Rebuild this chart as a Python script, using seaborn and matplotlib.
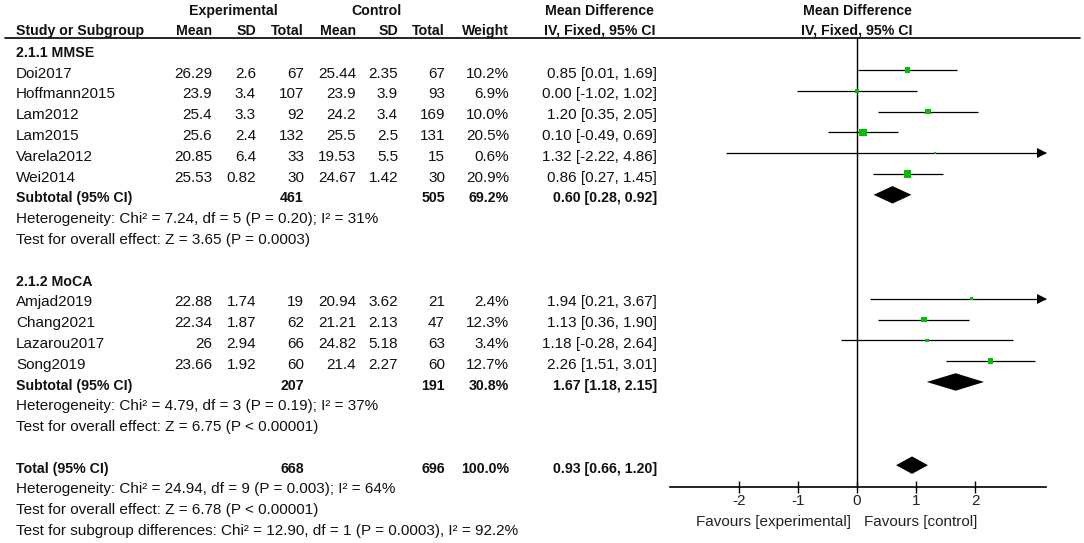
import matplotlib
matplotlib.use("Agg")
import matplotlib.pyplot as plt
from matplotlib.lines import Line2D
from matplotlib.transforms import blended_transform_factory
import seaborn as sns
import pandas as pd

# ---------------- data ----------------
studies1 = ["Doi2017", "Hoffmann2015", "Lam2012", "Lam2015", "Varela2012", "Wei2014"]
exp_mean1 = [26.29, 23.9, 25.4, 25.6, 20.85, 25.53]
exp_sd1 = [2.6, 3.4, 3.3, 2.4, 6.4, 0.82]
exp_n1 = [67, 107, 92, 132, 33, 30]
ctl_mean1 = [25.44, 23.9, 24.2, 25.5, 19.53, 24.67]
ctl_sd1 = [2.35, 3.9, 3.4, 2.5, 5.5, 1.42]
ctl_n1 = [67, 93, 169, 131, 15, 30]
weight1 = [10.2, 6.9, 10.0, 20.5, 0.6, 20.9]
md1 = [0.85, 0.00, 1.20, 0.10, 1.32, 0.86]
lo1 = [0.01, -1.02, 0.35, -0.49, -2.22, 0.27]
hi1 = [1.69, 1.02, 2.05, 0.69, 4.86, 1.45]

studies2 = ["Amjad2019", "Chang2021", "Lazarou2017", "Song2019"]
exp_mean2 = [22.88, 22.34, 26, 23.66]
exp_sd2 = [1.74, 1.87, 2.94, 1.92]
exp_n2 = [19, 62, 66, 60]
ctl_mean2 = [20.94, 21.21, 24.82, 21.4]
ctl_sd2 = [3.62, 2.13, 5.18, 2.27]
ctl_n2 = [21, 47, 63, 60]
weight2 = [2.4, 12.3, 3.4, 12.7]
md2 = [1.94, 1.13, 1.18, 2.26]
lo2 = [0.21, 0.36, -0.28, 1.51]
hi2 = [3.67, 1.90, 2.64, 3.01]

group_names = ["2.1.1 MMSE", "2.1.2 MoCA"]
sub_exp_n = [461, 207]
sub_ctl_n = [505, 191]
sub_weight = [69.2, 30.8]
sub_md = [0.60, 1.67]
sub_lo = [0.28, 1.18]
sub_hi = [0.92, 2.15]
sub_het = ["Heterogeneity: Chi\u00b2 = 7.24, df = 5 (P = 0.20); I\u00b2 = 31%",
           "Heterogeneity: Chi\u00b2 = 4.79, df = 3 (P = 0.19); I\u00b2 = 37%"]
sub_test = ["Test for overall effect: Z = 3.65 (P = 0.0003)",
            "Test for overall effect: Z = 6.75 (P < 0.00001)"]

tot_exp_n = 668
tot_ctl_n = 696
tot_weight = 100.0
tot_md, tot_lo, tot_hi = 0.93, 0.66, 1.20
tot_lines = ["Heterogeneity: Chi\u00b2 = 24.94, df = 9 (P = 0.003); I\u00b2 = 64%",
             "Test for overall effect: Z = 6.78 (P < 0.00001)",
             "Test for subgroup differences: Chi\u00b2 = 12.90, df = 1 (P = 0.0003), I\u00b2 = 92.2%"]

xticks = [-2, -1, 0, 1, 2]
xlim = (-3.17, 3.2)
fav_left = "Favours [experimental]"
fav_right = "Favours [control]"

# ---------------- style ----------------
sns.set_theme(style="white")
plt.rcParams["font.family"] = ["Liberation Sans", "DejaVu Sans"]
plt.rcParams["axes.unicode_minus"] = False
FS = 11
FSB = 10.2
GREEN = "#00C000"

W, H = 1084, 543
fig = plt.figure(figsize=(W / 100, H / 100), dpi=100)
ax = fig.add_axes([670 / W, 1 - 487 / H, (1046 - 670) / W, (487 - 38) / H])

# row layout
rows1 = list(range(1, 7))
rows2 = list(range(12, 16))
sub_rows = [7, 16]
tot_row = 20

# ---------------- forest plot ----------------
df = pd.DataFrame({
    "md": md1 + md2,
    "row": rows1 + rows2,
    "weight": weight1 + weight2,
    "lo": lo1 + lo2,
    "hi": hi1 + hi2,
})

for _, r in df.iterrows():
    a = max(r["lo"], xlim[0])
    b = min(r["hi"], xlim[1])
    ax.plot([a, b], [r["row"], r["row"]], color="black", lw=0.9, solid_capstyle="butt", zorder=2)
    if r["hi"] > xlim[1]:
        ax.plot([xlim[1] - 0.07], [r["row"]], marker=">", color="black", ms=6.5, mew=0, zorder=2,
                clip_on=False)
    if r["lo"] < xlim[0]:
        ax.plot([xlim[0] + 0.07], [r["row"]], marker="<", color="black", ms=6.5, mew=0, zorder=2,
                clip_on=False)

sns.scatterplot(data=df, x="md", y="row", size="weight", sizes=(3.0, 27.0), size_norm=(0.6, 20.9),
                marker="s", color=GREEN, linewidth=0, legend=False, ax=ax, zorder=3)

dh = 0.42
for m, l, h, y in list(zip(sub_md, sub_lo, sub_hi, sub_rows)) + [(tot_md, tot_lo, tot_hi, tot_row)]:
    ax.fill([l, m, h, m], [y, y - dh, y, y + dh], color="black", lw=0, zorder=3)

ax.axvline(0, color="black", lw=1.0, zorder=1)
ax.set_xlim(*xlim)
ax.set_ylim(21.05, -0.54)
ax.set_xticks(xticks)
ax.set_xticklabels([str(t) for t in xticks], fontsize=FS)
ax.set_yticks([])
ax.set_xlabel("")
ax.set_ylabel("")
for s in ["top", "left", "right"]:
    ax.spines[s].set_visible(False)
ax.spines["bottom"].set_color("black")
ax.spines["bottom"].set_linewidth(1.2)
ax.tick_params(axis="x", direction="inout", length=8, width=1, color="black", pad=1,
               labelcolor="#222222", bottom=True)
ax.patch.set_alpha(0)

ftr = blended_transform_factory(ax.transData, ax.transAxes)
ax.text(-0.1, -0.078, fav_left, transform=ftr, ha="right", va="center", fontsize=FS, color="#222222")
ax.text(0.12, -0.078, fav_right, transform=ftr, ha="left", va="center", fontsize=FS, color="#222222")

# ---------------- table text ----------------
tr = blended_transform_factory(fig.transFigure, ax.transData)
TOFF = 0.17
TC = "#111111"


def txt(xpx, row, s, ha="right", bold=False):
    fig.text(xpx / W, row + TOFF, s, transform=tr, ha=ha, va="center",
             fontsize=FSB if bold else FS,
             fontweight="bold" if bold else "normal", color=TC)


def fmt(v):
    return str(v)


col_x = {"emean": 212, "esd": 256, "en": 304, "cmean": 356, "csd": 398, "cn": 445,
         "w": 509, "ci": 657}

# headers
hr1, hr2 = -2.0, -1.05
txt(233, hr1, "Experimental", ha="center", bold=True)
txt(376, hr1, "Control", ha="center", bold=True)
txt(599, hr1, "Mean Difference", ha="center", bold=True)
txt(857, hr1, "Mean Difference", ha="center", bold=True)
txt(16, hr2, "Study or Subgroup", ha="left", bold=True)
txt(col_x["emean"], hr2, "Mean", bold=True)
txt(col_x["esd"], hr2, "SD", bold=True)
txt(col_x["en"], hr2, "Total", bold=True)
txt(col_x["cmean"], hr2, "Mean", bold=True)
txt(col_x["csd"], hr2, "SD", bold=True)
txt(col_x["cn"], hr2, "Total", bold=True)
txt(col_x["w"], hr2, "Weight", bold=True)
txt(600, hr2, "IV, Fixed, 95% CI", ha="center", bold=True)
txt(857, hr2, "IV, Fixed, 95% CI", ha="center", bold=True)

fig.add_artist(Line2D([5 / W, 1080 / W], [1 - 38 / H, 1 - 38 / H], transform=fig.transFigure,
                      color="black", lw=1.2))

groups = [
    (studies1, exp_mean1, exp_sd1, exp_n1, ctl_mean1, ctl_sd1, ctl_n1, weight1, md1, lo1, hi1, rows1),
    (studies2, exp_mean2, exp_sd2, exp_n2, ctl_mean2, ctl_sd2, ctl_n2, weight2, md2, lo2, hi2, rows2),
]
for g, (names, em, es, en, cm, cs, cn, w, md, lo, hi, rows) in enumerate(groups):
    txt(16, rows[0] - 1, group_names[g], ha="left", bold=True)
    for i, r in enumerate(rows):
        txt(16, r, names[i], ha="left")
        txt(col_x["emean"], r, fmt(em[i]))
        txt(col_x["esd"], r, fmt(es[i]))
        txt(col_x["en"], r, fmt(en[i]))
        txt(col_x["cmean"], r, fmt(cm[i]))
        txt(col_x["csd"], r, fmt(cs[i]))
        txt(col_x["cn"], r, fmt(cn[i]))
        txt(col_x["w"], r, f"{w[i]:.1f}%")
        txt(col_x["ci"], r, f"{md[i]:.2f} [{lo[i]:.2f}, {hi[i]:.2f}]")
    sr = sub_rows[g]
    txt(16, sr, "Subtotal (95% CI)", ha="left", bold=True)
    txt(col_x["en"], sr, str(sub_exp_n[g]), bold=True)
    txt(col_x["cn"], sr, str(sub_ctl_n[g]), bold=True)
    txt(col_x["w"], sr, f"{sub_weight[g]:.1f}%", bold=True)
    txt(col_x["ci"], sr, f"{sub_md[g]:.2f} [{sub_lo[g]:.2f}, {sub_hi[g]:.2f}]", bold=True)
    txt(16, sr + 1, sub_het[g], ha="left")
    txt(16, sr + 2, sub_test[g], ha="left")

txt(16, tot_row, "Total (95% CI)", ha="left", bold=True)
txt(col_x["en"], tot_row, str(tot_exp_n), bold=True)
txt(col_x["cn"], tot_row, str(tot_ctl_n), bold=True)
txt(col_x["w"], tot_row, f"{tot_weight:.1f}%", bold=True)
txt(col_x["ci"], tot_row, f"{tot_md:.2f} [{tot_lo:.2f}, {tot_hi:.2f}]", bold=True)
for k, line in enumerate(tot_lines):
    txt(16, tot_row + 1 + k, line, ha="left")

fig.savefig("out.png", dpi=100)
